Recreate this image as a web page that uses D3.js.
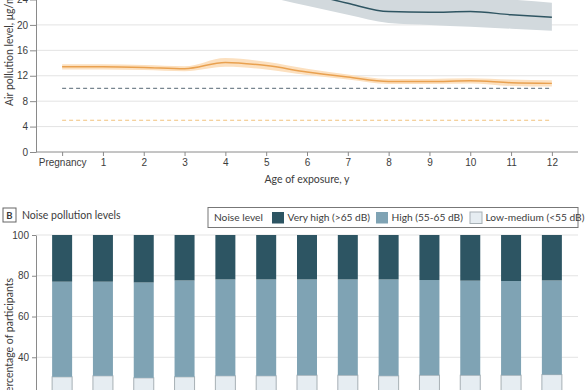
<!DOCTYPE html>
<html>
<head>
<meta charset="utf-8">
<script src="https://cdn.jsdelivr.net/npm/d3@7"></script>
<style>
  body { margin: 0; background: #fff; }
  svg { font-family: Lato, "Open Sans", sans-serif; }
  .axis text { fill: #3c3c3c; font-size: 10px; }
  .axis path, .axis line { stroke: #8a8a8a; }
</style>
</head>
<body>
<script>
// ages of exposure (x categories)
var ages = ["Pregnancy", "1", "2", "3", "4", "5", "6", "7", "8", "9", "10", "11", "12"];

// panel A: air pollution, ug/m3
var no2 = [28.2, 28.0, 27.8, 27.6, 28.4, 26.6, 25.0, 23.4, 22.1, 22.0, 22.1, 21.6, 21.2];
var no2Low = [26.0, 25.8, 25.6, 25.4, 26.2, 24.5, 23.0, 21.6, 20.3, 20.0, 19.7, 19.4, 19.1];
var no2High = [30.4, 30.2, 30.0, 29.8, 30.6, 28.7, 27.0, 25.2, 24.2, 24.3, 24.5, 24.0, 23.5];
var pm25 = [13.4, 13.4, 13.3, 13.1, 14.1, 13.6, 12.6, 11.8, 11.1, 11.1, 11.2, 10.9, 10.8];
var pm25Low = [13.0, 13.0, 12.9, 12.7, 13.4, 13.0, 12.1, 11.4, 10.7, 10.7, 10.8, 10.4, 10.3];
var pm25High = [13.8, 13.8, 13.7, 13.5, 14.8, 14.2, 13.1, 12.2, 11.5, 11.5, 11.6, 11.4, 11.3];
var no2Guide = 10;
var pm25Guide = 5;
var airTicks = [0, 4, 8, 12, 16, 20, 24];

// panel B: noise levels, % of participants
var lowMedium = [30.4, 30.9, 29.9, 30.4, 30.9, 30.9, 31.2, 31.2, 30.9, 31.2, 31.2, 31.2, 31.5];
var high = [46.7, 46.2, 46.8, 47.3, 47.3, 47.3, 47.0, 47.0, 47.3, 46.7, 46.4, 46.2, 46.2];
var veryHigh = [22.9, 22.9, 23.3, 22.3, 21.8, 21.8, 21.8, 21.8, 21.8, 22.1, 22.4, 22.6, 22.3];
var noiseTicks = [0, 20, 40, 60, 80, 100];

var w = 585, h = 390;
var left = 36, right = 578;
var textColor = "#3c3c3c";

var svg = d3.select("body").append("svg")
  .attr("width", w)
  .attr("height", h);

var x = d3.scalePoint()
  .domain(ages)
  .range([left, right])
  .padding(0.64);

// ---------- panel A ----------
var yA = d3.scaleLinear().domain([0, 24]).range([152, -0.5]);

svg.append("g")
  .selectAll("line")
  .data(airTicks.slice(1))
  .enter().append("line")
  .attr("x1", left).attr("x2", right)
  .attr("y1", function(d) { return yA(d); })
  .attr("y2", function(d) { return yA(d); })
  .attr("stroke", "#e3e3e3");

var idx = d3.range(ages.length);
var curve = d3.curveMonotoneX;

var area = function(lo, hi) {
  return d3.area()
    .x(function(i) { return x(ages[i]); })
    .y0(function(i) { return yA(lo[i]); })
    .y1(function(i) { return yA(hi[i]); })
    .curve(curve);
};
var line = function(v) {
  return d3.line()
    .x(function(i) { return x(ages[i]); })
    .y(function(i) { return yA(v[i]); })
    .curve(curve);
};

svg.append("path").datum(idx).attr("d", area(no2Low, no2High)).attr("fill", "#d2d9dd");
svg.append("path").datum(idx).attr("d", area(pm25Low, pm25High)).attr("fill", "#fce0bf");

// guideline dashes
svg.append("line")
  .attr("x1", x(ages[0])).attr("x2", x(ages[ages.length - 1]))
  .attr("y1", yA(no2Guide)).attr("y2", yA(no2Guide))
  .attr("stroke", "#77858f").attr("stroke-width", 1.2)
  .attr("stroke-dasharray", "4,3");
svg.append("line")
  .attr("x1", x(ages[0])).attr("x2", x(ages[ages.length - 1]))
  .attr("y1", yA(pm25Guide)).attr("y2", yA(pm25Guide))
  .attr("stroke", "#f1c27d").attr("stroke-width", 1.2)
  .attr("stroke-dasharray", "4,3");

svg.append("path").datum(idx).attr("d", line(no2))
  .attr("fill", "none").attr("stroke", "#2f5562").attr("stroke-width", 1.5);
svg.append("path").datum(idx).attr("d", line(pm25))
  .attr("fill", "none").attr("stroke", "#e9a150").attr("stroke-width", 1.5);

svg.append("g")
  .attr("class", "axis")
  .attr("transform", "translate(" + left + ",0)")
  .call(d3.axisLeft(yA).tickValues(airTicks).tickSize(6).tickSizeOuter(0).tickPadding(2));

svg.append("g")
  .attr("class", "axis")
  .attr("transform", "translate(0,152)")
  .call(d3.axisBottom(x).tickSize(4).tickSizeOuter(0).tickPadding(3))
  .select(".domain").attr("d", "M" + left + ",0H" + right);

svg.append("text")
  .attr("transform", "translate(13,106) rotate(-90)")
  .attr("font-size", 10.5).attr("fill", textColor)
  .text("Air pollution level, μg/m³");

svg.append("text")
  .attr("x", 307).attr("y", 183)
  .attr("text-anchor", "middle")
  .attr("font-size", 10.5).attr("fill", textColor)
  .text("Age of exposure, y");

// ---------- panel B ----------
var yB = d3.scaleLinear().domain([0, 100]).range([438.8, 235]);

svg.append("rect")
  .attr("x", 3).attr("y", 208).attr("width", 13).attr("height", 14)
  .attr("fill", "#fff").attr("stroke", "#666");
svg.append("text")
  .attr("x", 9.5).attr("y", 218.8).attr("text-anchor", "middle")
  .attr("font-size", 9.5).attr("font-weight", "bold").attr("fill", textColor)
  .text("B");
svg.append("text")
  .attr("x", 22).attr("y", 219)
  .attr("font-size", 10.5).attr("fill", textColor)
  .text("Noise pollution levels");

svg.append("g")
  .selectAll("line")
  .data(noiseTicks.slice(1))
  .enter().append("line")
  .attr("x1", left).attr("x2", right)
  .attr("y1", function(d) { return yB(d); })
  .attr("y2", function(d) { return yB(d); })
  .attr("stroke", "#e3e3e3");

var rows = ages.map(function(a, i) {
  return {age: a, low: lowMedium[i], high: high[i], veryHigh: veryHigh[i]};
});
var keys = ["low", "high", "veryHigh"];
var colors = {low: "#e6edf2", high: "#7fa3b4", veryHigh: "#2d5563"};
var stack = d3.stack().keys(keys)(rows);
var barW = 20;

svg.append("g")
  .selectAll("g")
  .data(stack)
  .enter().append("g")
  .attr("fill", function(d) { return colors[d.key]; })
  .attr("stroke", function(d) { return d.key === "low" ? "#a7b0b5" : "none"; })
  .selectAll("rect")
  .data(function(d) { return d; })
  .enter().append("rect")
  .attr("x", function(d) { return x(d.data.age) - barW / 2; })
  .attr("width", barW)
  .attr("y", function(d) { return yB(d[1]); })
  .attr("height", function(d) { return yB(d[0]) - yB(d[1]); });

svg.append("g")
  .attr("class", "axis")
  .attr("transform", "translate(" + left + ",0)")
  .call(d3.axisLeft(yB).tickValues(noiseTicks).tickSize(4).tickSizeOuter(0).tickPadding(3));

svg.append("text")
  .attr("transform", "translate(13,278) rotate(-90)")
  .attr("text-anchor", "end")
  .attr("font-size", 10.5).attr("fill", textColor)
  .text("Percentage of participants");

// legend
var lg = svg.append("g");
lg.append("rect")
  .attr("x", 208).attr("y", 207.5).attr("width", 370).attr("height", 20)
  .attr("fill", "#fff").attr("stroke", "#777");
lg.append("text")
  .attr("x", 214).attr("y", 221.3).attr("font-size", 10.2).attr("fill", textColor)
  .text("Noise level");
var legendItems = [
  {key: "veryHigh", label: "Very high (>65 dB)", x: 272},
  {key: "high", label: "High (55-65 dB)", x: 376},
  {key: "low", label: "Low-medium (<55 dB)", x: 470}
];
legendItems.forEach(function(d) {
  lg.append("rect")
    .attr("x", d.x).attr("y", 212).attr("width", 12).attr("height", 11.5)
    .attr("fill", colors[d.key])
    .attr("stroke", d.key === "low" ? "#a7b0b5" : "none");
  lg.append("text")
    .attr("x", d.x + 15.5).attr("y", 221.3).attr("font-size", 10.2).attr("fill", textColor)
    .text(d.label);
});
</script>
</body>
</html>
